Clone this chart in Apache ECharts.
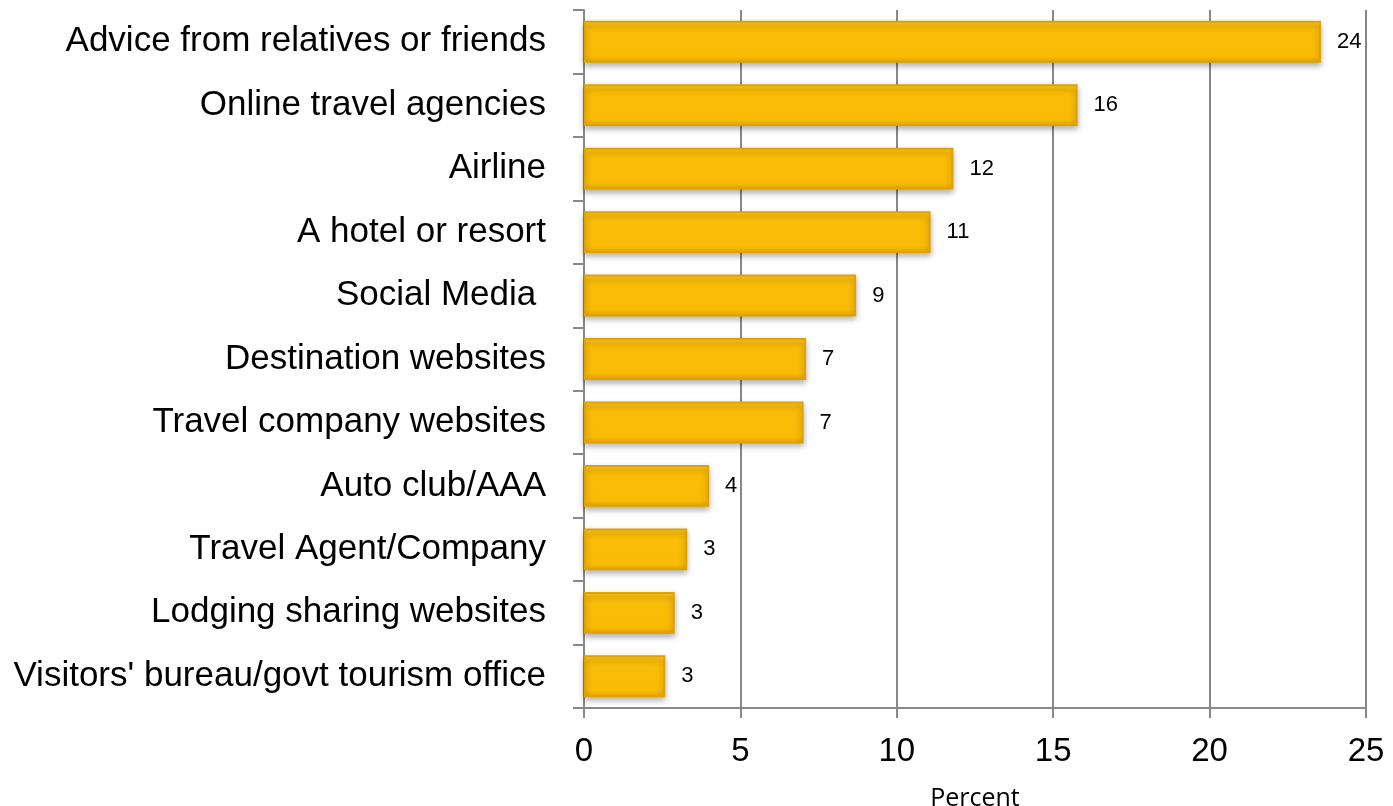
<!DOCTYPE html>
<html>
<head>
<meta charset="utf-8">
<script src="https://cdn.jsdelivr.net/npm/echarts@6/dist/echarts.min.js"></script>
<style>
  html, body { margin: 0; padding: 0; background: #fff; }
  #chart { width: 1393px; height: 806px; }
</style>
</head>
<body>
<div id="chart"></div>
<script>
const categories = [
  'Advice from relatives or friends',
  'Online travel agencies',
  'Airline',
  'A hotel or resort',
  'Social Media ',
  'Destination websites',
  'Travel company websites',
  'Auto club/AAA',
  'Travel Agent/Company',
  'Lodging sharing websites',
  "Visitors' bureau/govt tourism office"
];
// bar lengths as drawn
const values = [23.56, 15.78, 11.81, 11.08, 8.7, 7.1, 7.02, 4.0, 3.3, 2.9, 2.6];
// printed labels
const labels = [24, 16, 12, 11, 9, 7, 7, 4, 3, 3, 3];
const xTicks = { min: 0, max: 25, interval: 5 };

const sans = '"Liberation Sans", Arial, sans-serif';

const myChart = echarts.init(document.getElementById('chart'));
const option = {
  animation: false,
  grid: { left: 584, right: 27, top: 10, bottom: 98, outerBoundsMode: 'none' },
  xAxis: {
    type: 'value',
    min: xTicks.min,
    max: xTicks.max,
    interval: xTicks.interval,
    name: 'Percent',
    nameLocation: 'middle',
    nameGap: 78,
    nameTextStyle: { fontFamily: '"Open Sans"', fontSize: 25, color: '#000' },
    axisLine: { show: true, lineStyle: { color: '#888', width: 2 } },
    axisTick: { show: true, length: 10, lineStyle: { color: '#888', width: 2 } },
    axisLabel: { fontFamily: sans, fontSize: 33, color: '#000', margin: 27 },
    splitLine: { show: true, lineStyle: { color: '#888', width: 2 } }
  },
  yAxis: {
    type: 'category',
    inverse: true,
    data: categories,
    axisLine: { show: true, lineStyle: { color: '#888', width: 2 } },
    axisTick: { show: true, length: 11, lineStyle: { color: '#888', width: 2 } },
    axisLabel: { fontFamily: sans, fontSize: 35, color: '#000', margin: 38, padding: [4, 0, 0, 0] }
  },
  series: [{
    type: 'bar',
    data: values,
    barCategoryGap: '34%',
    itemStyle: {
      color: new echarts.graphic.LinearGradient(0, 0, 0, 1, [
        { offset: 0, color: '#FFD23C' },
        { offset: 0.12, color: '#FABD08' },
        { offset: 0.85, color: '#F9BB06' },
        { offset: 1, color: '#E8A700' }
      ]),
      borderColor: '#DFA200',
      borderWidth: 2,
      shadowColor: 'rgba(0,0,0,0.3)',
      shadowBlur: 6,
      shadowOffsetY: 3
    },
    label: {
      show: true,
      position: 'right',
      distance: 16,
      fontFamily: sans,
      fontSize: 22,
      color: '#000',
      formatter: p => labels[p.dataIndex]
    }
  }]
};
myChart.setOption(option);
</script>
</body>
</html>
